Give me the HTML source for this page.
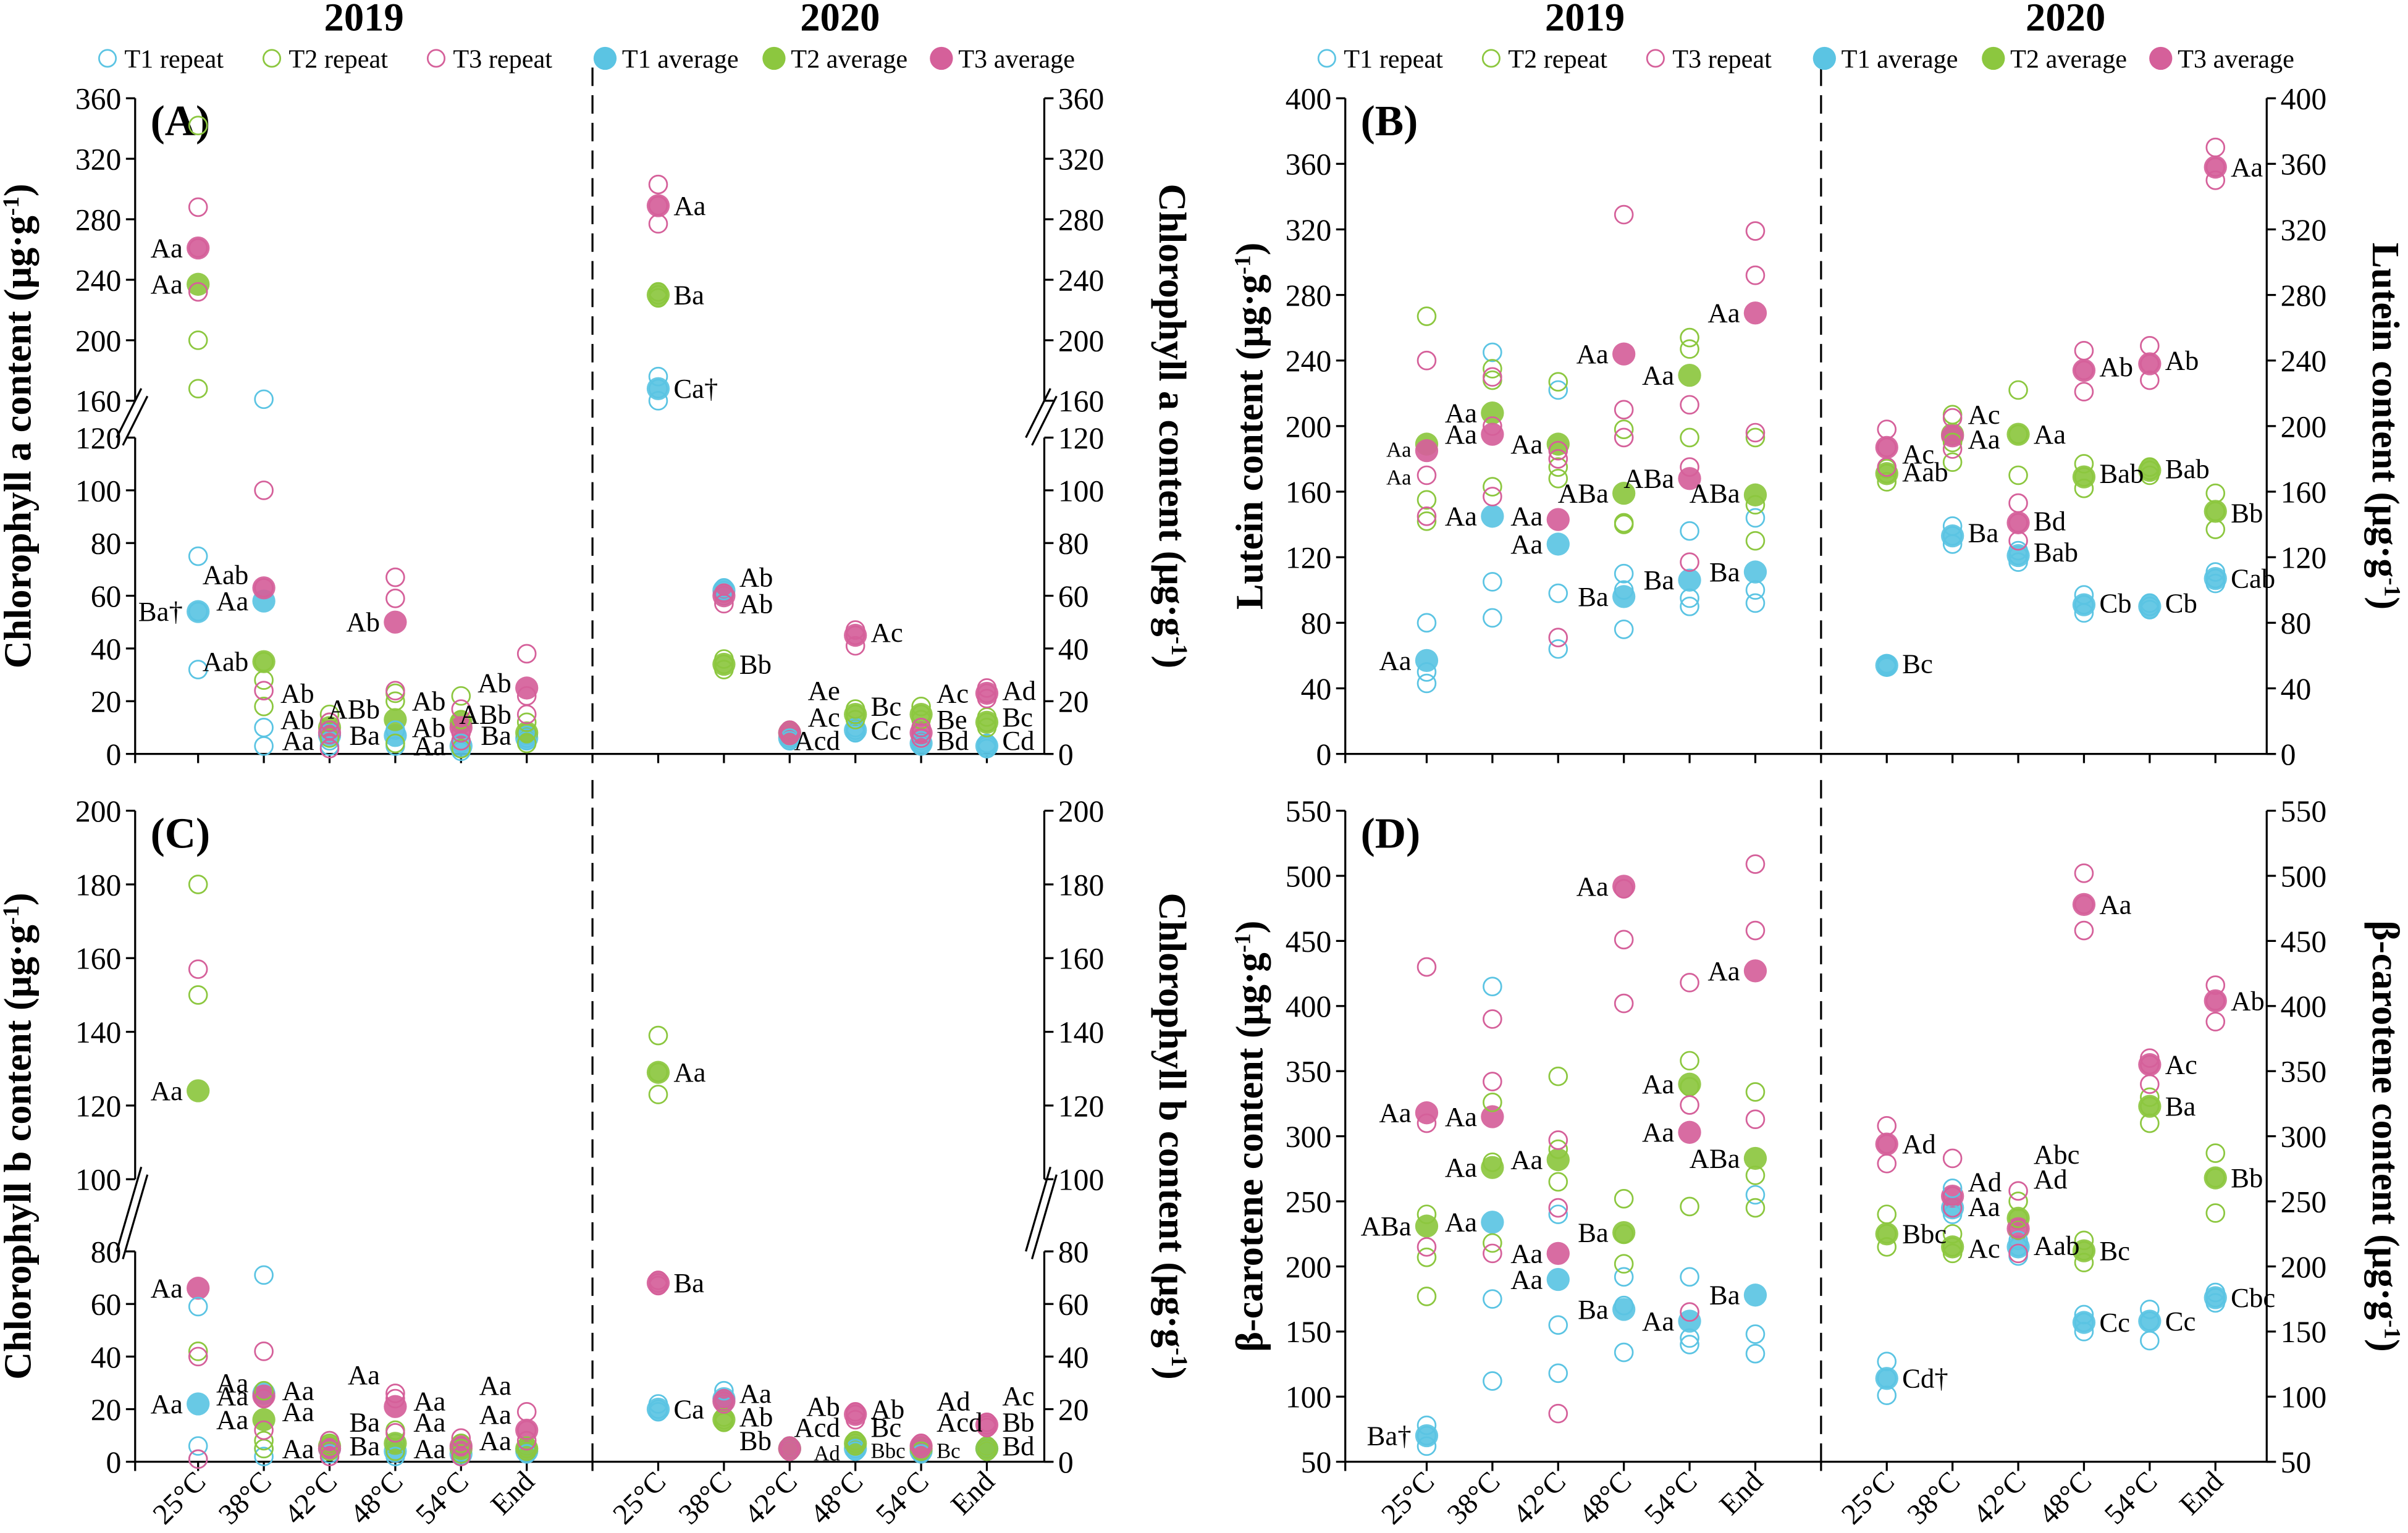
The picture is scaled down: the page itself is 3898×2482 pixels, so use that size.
<!DOCTYPE html>
<html><head><meta charset="utf-8"><style>
html,body{margin:0;padding:0;background:#fff}
svg{display:block;font-family:"Liberation Serif","Times New Roman",Times,serif}
svg text{font-family:"Liberation Serif","Times New Roman",Times,serif}
</style></head><body>
<svg id="chart" xmlns="http://www.w3.org/2000/svg" width="3898" height="2482" viewBox="0 0 1568 998.4"></svg>
<script>
// ---------- DATA ----------
const categories = ["25°C","38°C","42°C","48°C","54°C","End","25°C","38°C","42°C","48°C","54°C","End"];
const seriesNames = ["T1","T2","T3"];

// Panel A: Chlorophyll a
const aT1Avg = [54,58,7,7,3,6, 168,62,6,9,4,3];
const aT2Avg = [237,35,10,13,12,8, 230,34,8,15,15,12];
const aT3Avg = [261,63,8,50,10,25, 289,60,8,45,8,23];
const aT1Rep = [[75,32,54],[161,10,3],[5,3,8],[4,9,3],[1,4,2],[5,7,6],[176,160,168],[63,60,62],[7,5,6],[10,8,9],[5,3,4],[4,2,3]];
const aT2Rep = [[342,200,168],[28,18,35],[15,12,6],[23,20,4],[22,13,2],[8,4,12],[232,228,230],[36,32,34],[9,7,8],[17,13,15],[18,13,15],[14,10,12]];
const aT3Rep = [[288,232,261],[100,24,63],[12,2,9],[67,59,24],[17,8,5],[38,22,15],[303,277,289],[61,57,60],[9,7,8],[47,41,45],[10,6,8],[25,21,23]];
const aLabels = [[0,261,"Aa","L"],[0,237,"Aa","L"],[0,54,"Ba†","L"],[1,68,"Aab","L"],[1,58,"Aa","L"],[1,35,"Aab","L"],
 [2,23,"Ab","L"],[2,13,"Ab","L"],[2,5,"Aa","L"],[3,17,"ABb","L"],[3,7,"Ba","L"],[3,50,"Ab","L"],
 [4,20,"Ab","L"],[4,10,"Ab","L"],[4,3,"Aa","L"],[5,27,"Ab","L"],[5,15,"ABb","L"],[5,7,"Ba","L"],
 [6,289,"Aa","R"],[6,230,"Ba","R"],[6,168,"Ca†","R"],[7,67,"Ab","R"],[7,57,"Ab","R"],[7,34,"Bb","R"],
 [9,24,"Ae","L"],[9,14,"Ac","L"],[9,5,"Acd","L"],[9,46,"Ac","R"],[9,18,"Bc","R"],[9,9,"Cc","R"],
 [10,23,"Ac","R"],[10,13,"Be","R"],[10,5,"Bd","R"],[11,24,"Ad","R"],[11,14,"Bc","R"],[11,5,"Cd","R"]];

// Panel B: Lutein
const bT1Avg = [57,145,128,96,106,111, 54,133,121,91,90,107];
const bT2Avg = [189,208,189,159,231,158, 171,195,195,169,173,148];
const bT3Avg = [185,195,143,244,168,269, 187,194,141,234,238,358];
const bT1Rep = [[80,50,43],[245,105,83],[222,98,64],[110,76,100],[136,95,90],[144,100,92],[55,53,54],[139,128,133],[124,117,121],[97,86,91],[92,88,90],[111,104,107]];
const bT2Rep = [[267,155,142],[235,163,228],[227,168,175],[198,140,141],[254,247,193],[193,130,152],[174,166,171],[207,178,190],[222,170,195],[177,162,169],[175,170,173],[159,137,148]];
const bT3Rep = [[240,170,145],[230,157,200],[180,71,185],[329,210,193],[213,175,117],[319,292,196],[198,175,187],[205,186,194],[153,130,141],[246,221,234],[249,228,238],[370,350,358]];
const bLabels = [[0,187,"Aa","Ls"],[0,170,"Aa","Ls"],[0,57,"Aa","L"],[1,208,"Aa","L"],[1,195,"Aa","L"],[1,145,"Aa","L"],
 [2,189,"Aa","L"],[2,145,"Aa","L"],[2,128,"Aa","L"],[3,244,"Aa","L"],[3,159,"ABa","L"],[3,96,"Ba","L"],
 [4,231,"Aa","L"],[4,168,"ABa","L"],[4,106,"Ba","L"],[5,269,"Aa","L"],[5,159,"ABa","L"],[5,111,"Ba","L"],
 [6,183,"Ac","R"],[6,172,"Aab","R"],[6,55,"Bc","R"],[7,207,"Ac","R"],[7,192,"Aa","R"],[7,135,"Ba","R"],
 [8,195,"Aa","R"],[8,142,"Bd","R"],[8,123,"Bab","R"],[9,236,"Ab","R"],[9,171,"Bab","R"],[9,92,"Cb","R"],
 [10,240,"Ab","R"],[10,174,"Bab","R"],[10,92,"Cb","R"],[11,358,"Aa","R"],[11,147,"Bb","R"],[11,107,"Cab","R"]];

// Panel C: Chlorophyll b
const cT1Avg = [22,26,5,4,3,4, 20,24,5,5,4,5];
const cT2Avg = [124,16,6,7,5,5, 129,16,5,7,5,5];
const cT3Avg = [66,25,5,21,6,12, 68,23,5,18,6,14];
const cT1Rep = [[59,6,1],[71,2,5],[8,3,5],[7,2,4],[5,2,3],[6,3,4],[22,19,20],[27,22,24],[6,4,5],[6,4,5],[5,3,4],[6,4,5]];
const cT2Rep = [[180,150,42],[27,8,5],[7,4,6],[12,4,7],[7,3,5],[6,4,5],[139,123,129],[17,15,16],[6,4,5],[8,6,7],[6,4,5],[6,4,5]];
const cT3Rep = [[157,40,1],[42,12,24],[8,2,5],[26,24,11],[9,2,6],[19,8,12],[69,67,68],[24,22,23],[6,4,5],[19,16,18],[7,5,6],[15,13,14]];
const cLabels = [[0,124,"Aa","L"],[0,66,"Aa","L"],[0,22,"Aa","L"],[1,30,"Aa","L"],[1,25,"Aa","L"],[1,16,"Aa","L"],
 [2,27,"Aa","L"],[2,19,"Aa","L"],[2,5,"Aa","L"],[3,33,"Aa","L"],[3,15,"Ba","L"],[3,6,"Ba","L"],
 [4,23,"Aa","L"],[4,15,"Aa","L"],[4,5,"Aa","L"],[5,29,"Aa","L"],[5,18,"Aa","L"],[5,8,"Aa","L"],
 [6,129,"Aa","R"],[6,68,"Ba","R"],[6,20,"Ca","R"],[7,26,"Aa","R"],[7,17,"Ab","R"],[7,8,"Bb","R"],
 [9,21,"Ab","L"],[9,13,"Acd","L"],[9,4,"Ad","Ls"],[9,20,"Ab","R"],[9,13,"Bc","R"],[9,5,"Bbc","Rs"],
 [10,23,"Ad","R"],[10,15,"Acd","R"],[10,5,"Bc","Rs"],[11,25,"Ac","R"],[11,15,"Bb","R"],[11,6,"Bd","R"]];

// Panel D: beta-carotene
const dT1Avg = [70,234,190,167,158,178, 114,245,215,157,158,176];
const dT2Avg = [231,276,282,226,340,283, 225,215,237,212,323,268];
const dT3Avg = [318,315,210,492,303,427, 294,254,229,478,355,404];
const dT1Rep = [[78,62,70],[415,175,112],[155,118,240],[192,170,134],[192,145,140],[255,148,133],[127,101,114],[260,240,245],[220,208,215],[163,150,157],[167,143,158],[180,172,176]];
const dT2Rep = [[177,207,240],[326,280,218],[346,265,290],[252,202,225],[358,246,338],[334,270,245],[240,215,225],[225,210,215],[250,228,237],[220,203,212],[330,310,323],[287,241,268]];
const dT3Rep = [[430,310,215],[390,342,210],[297,245,87],[451,402,490],[418,324,165],[509,458,313],[308,279,294],[283,245,254],[258,210,229],[502,458,478],[360,340,355],[416,388,404]];
const dLabels = [[0,318,"Aa","L"],[0,231,"ABa","L"],[0,70,"Ba†","L"],[1,315,"Aa","L"],[1,276,"Aa","L"],[1,234,"Aa","L"],
 [2,282,"Aa","L"],[2,210,"Aa","L"],[2,190,"Aa","L"],[3,492,"Aa","L"],[3,226,"Ba","L"],[3,167,"Ba","L"],
 [4,340,"Aa","L"],[4,303,"Aa","L"],[4,158,"Aa","L"],[5,427,"Aa","L"],[5,283,"ABa","L"],[5,178,"Ba","L"],
 [6,294,"Ad","R"],[6,225,"Bbc","R"],[6,114,"Cd†","R"],[7,265,"Ad","R"],[7,246,"Aa","R"],[7,214,"Ac","R"],
 [8,286,"Abc","R"],[8,267,"Ad","R"],[8,216,"Aab","R"],[9,478,"Aa","R"],[9,212,"Bc","R"],[9,157,"Cc","R"],
 [10,355,"Ac","R"],[10,323,"Ba","R"],[10,158,"Cc","R"],[11,404,"Ab","R"],[11,268,"Bb","R"],[11,176,"Cbc","R"]];

// ---------- DRAWING ----------
const NS = "http://www.w3.org/2000/svg";
const svg = document.getElementById("chart");
const COLORS = ["#5bc4e3","#8cc73f","#d5609a"];
const FF = "'Liberation Serif', 'Times New Roman', Times, serif";
function mk(tag, attrs, parent, txt){
  const e = document.createElementNS(NS, tag);
  for (const k in attrs) e.setAttribute(k, attrs[k]);
  if (tag === "text") e.setAttribute("font-family", FF);
  if (txt !== undefined) e.textContent = txt;
  (parent||svg).appendChild(e);
  return e;
}
function makeY(p){
  return function(v){
    if (!p.brk) return p.base - (v - p.min) * (p.base - p.top) / (p.max - p.min);
    if (v <= p.lowMax) return p.base - v * (p.base - p.lowTop) / p.lowMax;
    if (v >= p.upMin) return p.upBot - (v - p.upMin) * (p.upBot - p.top) / (p.max - p.upMin);
    return p.lowTop - (v - p.lowMax) * (p.lowTop - p.upBot) / (p.upMin - p.lowMax);
  };
}
function drawPanel(p){
  const g = mk("g", {});
  
  
  const y = makeY(p);
  const x = i => p.x0 + i * p.dx + (i >= 6 ? p.gap : 0);
  const ax = mk("g", {stroke:"#000","stroke-width":1.3,fill:"none"}, g);
  
  
  mk("line",{x1:p.L,y1:p.base,x2:p.R+6,y2:p.base},ax);
  [p.L,p.R].forEach((X)=>{
    if (p.brk){
      mk("line",{x1:X,y1:p.top,x2:X,y2:p.upBot},ax);
      mk("line",{x1:X,y1:p.lowTop,x2:X,y2:p.base},ax);
      mk("line",{x1:X-8,y1:p.lowTop+5,x2:X+8,y2:p.upBot-3},ax);
      mk("line",{x1:X-12,y1:p.lowTop,x2:X+4,y2:p.upBot-8},ax);
    } else mk("line",{x1:X,y1:p.top,x2:X,y2:p.base},ax);
  });
  const mid = (x(5)+x(6))/2;
  const dash = mk("line",{x1:mid,y1:p.top-20,x2:mid,y2:p.base,"stroke-dasharray":"12,6"},ax);
  
  
  for (let i=0;i<12;i++) mk("line",{x1:x(i),y1:p.base,x2:x(i),y2:p.base+6},ax);
  mk("line",{x1:p.L,y1:p.base,x2:p.L,y2:p.base+6},ax);
  mk("line",{x1:mid,y1:p.base,x2:mid,y2:p.base+6},ax);
  p.ticks.forEach(t=>{
    const Y = y(t);
    mk("line",{x1:p.L-6,y1:Y,x2:p.L,y2:Y},ax);
    mk("line",{x1:p.R,y1:Y,x2:p.R+6,y2:Y},ax);
    const tl = mk("text",{x:p.L-9,y:Y+7,"text-anchor":"end","font-size":20},g,String(t));
    
    
    const tr = mk("text",{x:p.R+9,y:Y+7,"text-anchor":"start","font-size":20},g,String(t));
    
    
  });
  if (p.xlabels){
    for (let i=0;i<12;i++){
      const t = mk("text",{x:x(i)+6,y:p.base+14,"text-anchor":"end","font-size":19,transform:`rotate(-45 ${x(i)+6} ${p.base+14})`},g,categories[i]);
      
      
    }
  }
  const lt = mk("text",{x:0,y:0,"text-anchor":"middle","font-size":25,"font-weight":"bold",transform:`translate(${p.titleLX} ${(p.top+p.base)/2}) rotate(-90)`},g);
  
  
  lt.innerHTML = p.title + ' (μg·g<tspan dy="-8" font-size="15">-1</tspan><tspan dy="8">)</tspan>';
  const rt = mk("text",{x:0,y:0,"text-anchor":"middle","font-size":25,"font-weight":"bold",transform:`translate(${p.titleRX} ${(p.top+p.base)/2}) rotate(90)`},g);
  
  
  rt.innerHTML = p.title + ' (μg·g<tspan dy="-8" font-size="15">-1</tspan><tspan dy="8">)</tspan>';
  const pl = mk("text",{x:p.L+10,y:p.top+24,"font-size":28,"font-weight":"bold"},g,p.letter);
  
  
  p.avgs.forEach((arr,s)=>{
    arr.forEach((v,i)=>{
      const c = mk("circle",{cx:x(i),cy:y(v),r:7.5,fill:COLORS[s],"fill-opacity":0.92},g);
      
      
    });
  });
  p.reps.forEach((arr,s)=>{
    arr.forEach((vals,i)=>{
      vals.forEach(v=>{
        const c = mk("circle",{cx:x(i),cy:y(v),r:5.8,fill:"none",stroke:COLORS[s],"stroke-width":1.1},g);
        
        
      });
    });
  });
  p.labels.forEach(l=>{
    const [i,v,txt,side] = l;
    const small = side.indexOf("s")>=0;
    const left = side[0]==="L";
    const t = mk("text",{x: left ? x(i)-10 : x(i)+10, y:y(v)+6,"text-anchor": left?"end":"start","font-size": small?14:18},g,txt);
    
    
  });
}
const common = {dx:42.8, gap:42.8};
drawPanel(Object.assign({},common,{name:"panel-a-chlorophyll-a",letter:"(A)",title:"Chlorophyll a content",x0:129,L:88,R:680,top:64,base:491,
  brk:true,lowMax:120,lowTop:285,upMin:160,upBot:261,max:360,ticks:[0,20,40,60,80,100,120,160,200,240,280,320,360],
  titleLX:20,titleRX:755,avgs:[aT1Avg,aT2Avg,aT3Avg],reps:[aT1Rep,aT2Rep,aT3Rep],labels:aLabels,xlabels:false}));
drawPanel(Object.assign({},common,{name:"panel-b-lutein",letter:"(B)",title:"Lutein content",x0:929,L:876,R:1476,top:64,base:491,
  min:0,max:400,ticks:[0,40,80,120,160,200,240,280,320,360,400],
  titleLX:822,titleRX:1545,avgs:[bT1Avg,bT2Avg,bT3Avg],reps:[bT1Rep,bT2Rep,bT3Rep],labels:bLabels,xlabels:false}));
drawPanel(Object.assign({},common,{name:"panel-c-chlorophyll-b",letter:"(C)",title:"Chlorophyll b content",x0:129,L:88,R:680,top:528,base:952,
  brk:true,lowMax:80,lowTop:815,upMin:100,upBot:768,max:200,ticks:[0,20,40,60,80,100,120,140,160,180,200],
  titleLX:20,titleRX:755,avgs:[cT1Avg,cT2Avg,cT3Avg],reps:[cT1Rep,cT2Rep,cT3Rep],labels:cLabels,xlabels:true}));
drawPanel(Object.assign({},common,{name:"panel-d-beta-carotene",letter:"(D)",title:"β-carotene content",x0:929,L:876,R:1476,top:528,base:952,
  min:50,max:550,ticks:[50,100,150,200,250,300,350,400,450,500,550],
  titleLX:822,titleRX:1545,avgs:[dT1Avg,dT2Avg,dT3Avg],reps:[dT1Rep,dT2Rep,dT3Rep],labels:dLabels,xlabels:true}));

[[237,"2019"],[547,"2020"],[1032,"2019"],[1345,"2020"]].forEach(h=>{
  const t = mk("text",{x:h[0],y:20,"text-anchor":"middle","font-size":26,"font-weight":"bold"},svg,h[1]);
  
  
});
const legendNames = ["T1 repeat","T2 repeat","T3 repeat","T1 average","T2 average","T3 average"];
[[70,0],[864,0]].forEach(o=>{
  const lg = mk("g",{});
  
  
  const xs = [0,107,214,324,434,543];
  legendNames.forEach((n,k)=>{
    const cx = o[0]+xs[k];
    const s = k%3;
    if (k<3) mk("circle",{cx:cx,cy:38,r:5.5,fill:"none",stroke:COLORS[s],"stroke-width":1.1},lg);
    else mk("circle",{cx:cx,cy:38,r:7.5,fill:COLORS[s]},lg);
    const t = mk("text",{x:cx+11,y:44,"font-size":17},lg,n);
    
    
  });
});
</script>
</body></html>
